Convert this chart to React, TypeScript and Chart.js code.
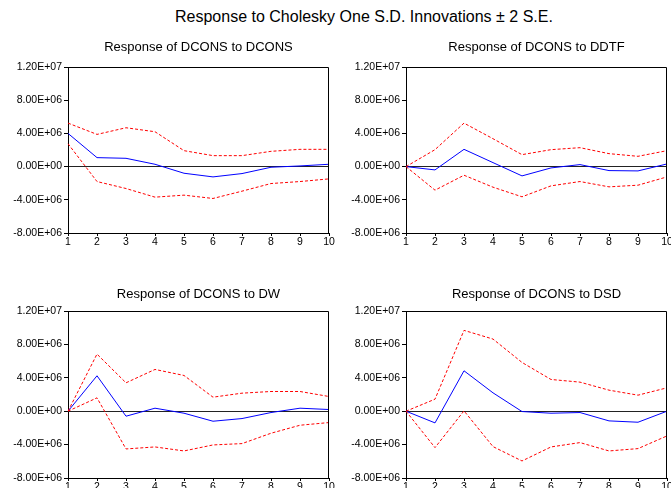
import React, { useEffect, useRef } from "react";
import { Chart, registerables } from "chart.js";

Chart.register(...registerables);

const periods = ["1", "2", "3", "4", "5", "6", "7", "8", "9", "10"];
const yTickValues = [-8000000, -4000000, 0, 4000000, 8000000, 12000000];
const yTickLabels = ["-8.00E+06", "-4.00E+06", "0.00E+00", "4.00E+06", "8.00E+06", "1.20E+07"];

const dconsResp = [4.0e6, 1.08e6, 1.0e6, 0.28e6, -0.8e6, -1.24e6, -0.84e6, -0.08e6, 0.08e6, 0.28e6];
const dconsUpper = [5.24e6, 3.88e6, 4.68e6, 4.2e6, 1.92e6, 1.32e6, 1.32e6, 1.84e6, 2.08e6, 2.08e6];
const dconsLower = [2.76e6, -1.8e6, -2.64e6, -3.68e6, -3.44e6, -3.84e6, -2.96e6, -2.04e6, -1.8e6, -1.48e6];

const ddtfResp = [0, -0.4e6, 2.08e6, 0.48e6, -1.12e6, -0.16e6, 0.24e6, -0.48e6, -0.52e6, 0.32e6];
const ddtfUpper = [0, 2.04e6, 5.24e6, 3.36e6, 1.44e6, 2.04e6, 2.28e6, 1.56e6, 1.24e6, 1.92e6];
const ddtfLower = [0, -2.84e6, -1.04e6, -2.48e6, -3.64e6, -2.32e6, -1.8e6, -2.44e6, -2.24e6, -1.24e6];

const dwResp = [0, 4.24e6, -0.6e6, 0.36e6, -0.24e6, -1.2e6, -0.88e6, -0.16e6, 0.36e6, 0.2e6];
const dwUpper = [0, 6.84e6, 3.4e6, 5.0e6, 4.28e6, 1.68e6, 2.16e6, 2.36e6, 2.36e6, 1.76e6];
const dwLower = [0, 1.6e6, -4.52e6, -4.28e6, -4.76e6, -4.04e6, -3.88e6, -2.64e6, -1.68e6, -1.36e6];

const dsdResp = [0, -1.4e6, 4.84e6, 2.2e6, -0.04e6, -0.24e6, -0.16e6, -1.16e6, -1.32e6, 0];
const dsdUpper = [0, 1.44e6, 9.68e6, 8.64e6, 5.84e6, 3.8e6, 3.48e6, 2.52e6, 1.92e6, 2.8e6];
const dsdLower = [0, -4.36e6, 0.04e6, -4.24e6, -5.96e6, -4.28e6, -3.76e6, -4.76e6, -4.48e6, -2.96e6];

const mainTitle = "Response to Cholesky One S.D. Innovations \u00b1 2 S.E.";

const FONT = "'Liberation Sans', Arial, Helvetica, sans-serif";

type Panel = {
  title: string;
  resp: number[];
  upper: number[];
  lower: number[];
  left: number;
  top: number;
  width: number;
  height: number;
  yAxisWidth: number;
  padRight: number;
  titlePadTop: number;
  titlePadBottom: number;
  xAxisHeight: number;
};

const panels: Panel[] = [
  { title: "Response of DCONS to DCONS", resp: dconsResp, upper: dconsUpper, lower: dconsLower,
    left: 0, top: 36, width: 335, height: 220, yAxisWidth: 68, padRight: 6, titlePadTop: 3.2, titlePadBottom: 12.2, xAxisHeight: 23 },
  { title: "Response of DCONS to DDTF", resp: ddtfResp, upper: ddtfUpper, lower: ddtfLower,
    left: 335, top: 36, width: 336, height: 220, yAxisWidth: 71, padRight: 4, titlePadTop: 3.2, titlePadBottom: 12.2, xAxisHeight: 23 },
  { title: "Response of DCONS to DW", resp: dwResp, upper: dwUpper, lower: dwLower,
    left: 0, top: 280, width: 335, height: 208, yAxisWidth: 68, padRight: 6, titlePadTop: 6.2, titlePadBottom: 9.2, xAxisHeight: 10 },
  { title: "Response of DCONS to DSD", resp: dsdResp, upper: dsdUpper, lower: dsdLower,
    left: 335, top: 280, width: 336, height: 208, yAxisWidth: 71, padRight: 4, titlePadTop: 6.2, titlePadBottom: 9.2, xAxisHeight: 10 },
];

const frameBox = {
  id: "frameBox",
  afterDraw(chart: any) {
    const { ctx, chartArea } = chart;
    const t = Math.round(chartArea.top) + 0.5;
    const r = Math.round(chartArea.right) - 0.5;
    const l = Math.round(chartArea.left);
    const b = Math.round(chartArea.bottom);
    ctx.save();
    ctx.strokeStyle = "#000";
    ctx.lineWidth = 1;
    ctx.beginPath();
    ctx.moveTo(l, t);
    ctx.lineTo(r, t);
    ctx.lineTo(r, b);
    ctx.stroke();
    ctx.restore();
  },
};

function PanelChart({ p }: { p: Panel }) {
  const ref = useRef<HTMLCanvasElement | null>(null);
  useEffect(() => {
    if (!ref.current) return;
    const chart = new Chart(ref.current, {
      type: "line",
      data: {
        labels: periods,
        datasets: [
          { data: p.upper, borderColor: "#ff0000", borderWidth: 1, borderDash: [3, 2], pointRadius: 0, tension: 0, fill: false },
          { data: p.lower, borderColor: "#ff0000", borderWidth: 1, borderDash: [3, 2], pointRadius: 0, tension: 0, fill: false },
          { data: p.resp, borderColor: "#0000ff", borderWidth: 1, pointRadius: 0, tension: 0, fill: false },
        ],
      },
      options: {
        responsive: false,
        animation: false,
        events: [],
        layout: { padding: { left: 0, right: p.padRight, top: 0, bottom: 0 } },
        plugins: {
          legend: { display: false },
          tooltip: { enabled: false },
          title: {
            display: true,
            fullSize: false,
            text: p.title,
            color: "#000",
            font: { family: FONT, size: 13, weight: "normal", lineHeight: 1.2 },
            padding: { top: p.titlePadTop, bottom: p.titlePadBottom },
          },
        },
        scales: {
          x: {
            type: "category",
            offset: false,
            grid: { display: true, drawOnChartArea: false, drawTicks: true, tickLength: 3, tickColor: "#000", color: "#000" },
            border: { display: true, color: "#000", width: 1 },
            ticks: { color: "#000", font: { family: FONT, size: 10.5 }, padding: 0, maxRotation: 0, autoSkip: false },
            afterFit(scale: any) {
              scale.height = p.xAxisHeight;
              scale.paddingLeft = 0;
              scale.paddingRight = 0;
            },
          },
          y: {
            type: "linear",
            min: -8000000,
            max: 12000000,
            afterBuildTicks(scale: any) {
              scale.ticks = yTickValues.map((v) => ({ value: v }));
            },
            grid: {
              display: true,
              drawOnChartArea: true,
              drawTicks: true,
              tickLength: 4,
              tickColor: "#000",
              color: (c: any) => (c.tick && c.tick.value === 0 ? "#222" : "rgba(0,0,0,0)"),
            },
            border: { display: true, color: "#000", width: 1 },
            ticks: {
              color: "#000",
              font: { family: FONT, size: 10.5 },
              padding: 2,
              callback: (_v: any, i: number) => yTickLabels[i],
            },
            afterFit(scale: any) {
              scale.width = p.yAxisWidth;
            },
          },
        },
      },
      plugins: [frameBox],
    } as any);
    return () => chart.destroy();
  }, [p]);
  return (
    <canvas
      ref={ref}
      width={p.width}
      height={p.height}
      style={{ position: "absolute", left: p.left, top: p.top, width: p.width, height: p.height }}
    />
  );
}

export default function App() {
  return (
    <div style={{ position: "fixed", left: 0, top: 0, width: 671, height: 488, background: "#fff", overflow: "hidden" }}>
      <div
        style={{
          position: "absolute",
          left: 175,
          top: 9,
          whiteSpace: "nowrap",
          fontFamily: FONT,
          fontSize: 16,
          lineHeight: "16px",
          color: "#000",
        }}
      >
        {mainTitle}
      </div>
      {panels.map((p, i) => (
        <PanelChart key={i} p={p} />
      ))}
    </div>
  );
}
